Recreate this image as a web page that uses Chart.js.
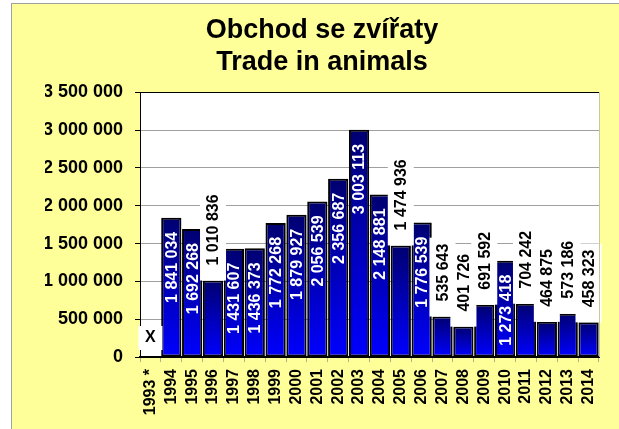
<!DOCTYPE html>
<html>
<head>
<meta charset="utf-8">
<script src="https://cdn.jsdelivr.net/npm/chart.js@4.4.1/dist/chart.umd.min.js"></script>
<style>
  html, body { margin: 0; padding: 0; background: #fff; overflow: hidden; }
  #frame {
    position: absolute; left: 11px; top: 3px;
    width: 620px; height: 440px;
    background: #FFFF99;
    border-left: 1px solid #a0a0a0; border-top: 1px solid #a0a0a0;
  }
  canvas { display: block; }
</style>
</head>
<body>
<div id="frame"><canvas id="obchodChart" width="607" height="425"></canvas></div>
<script>
var years = ["1993 *", "1994", "1995", "1996", "1997", "1998", "1999", "2000", "2001", "2002", "2003",
             "2004", "2005", "2006", "2007", "2008", "2009", "2010", "2011", "2012", "2013", "2014"];
var animals = [null, 1841034, 1692268, 1010836, 1431607, 1436373, 1772268, 1879927, 2056539, 2356687, 3003113,
               2148881, 1474936, 1776539, 535643, 401726, 691592, 1273418, 704242, 464875, 573186, 458323];
// years whose value label sits above the bar on a white box
var labelsAbove = ["1993 *", "1996", "2005", "2007", "2008", "2009", "2011", "2012", "2013", "2014"];

function spaced(n) {
    return String(n).replace(/\B(?=(\d{3})+(?!\d))/g, " ");
}

var FONT = "'Liberation Sans', Arial, sans-serif";

// white plot area + right border
var plotBg = {
    id: 'plotBg',
    beforeDraw: function (chart) {
        var a = chart.chartArea, c = chart.ctx;
        c.save();
        c.fillStyle = '#ffffff';
        c.fillRect(a.left, a.top, a.right - a.left, a.bottom - a.top);
        c.restore();
    },
    afterDraw: function (chart) {
        var a = chart.chartArea, c = chart.ctx;
        c.save();
        c.strokeStyle = '#c8c8a0';
        c.lineWidth = 1;
        c.beginPath();
        c.moveTo(a.right + 0.5, a.top);
        c.lineTo(a.right + 0.5, a.bottom);
        c.stroke();
        c.restore();
    }
};

// rotated value labels
var valueLabels = {
    id: 'valueLabels',
    afterDatasetsDraw: function (chart) {
        var c = chart.ctx;
        var meta = chart.getDatasetMeta(0);
        var yScale = chart.scales.y;
        c.save();
        c.font = 'bold 16px ' + FONT;
        meta.data.forEach(function (bar, i) {
            var v = animals[i];
            var x = bar.x;
            var top = yScale.getPixelForValue(v === null ? 0 : v);
            if (v === null) {
                c.fillStyle = '#fff';
                c.fillRect(x - 12, top - 31, 24, 24);
                c.fillStyle = '#000';
                c.textAlign = 'center';
                c.textBaseline = 'middle';
                c.fillText('X', x, top - 19);
                return;
            }
            var txt = spaced(v);
            var w = c.measureText(txt).width;
            c.save();
            if (labelsAbove.indexOf(years[i]) >= 0) {
                var bottom = top - 15;
                c.fillStyle = '#fff';
                c.fillRect(x - 13, bottom - w - 6, 26, w + 6 + 15);
                c.translate(x, bottom);
                c.rotate(-Math.PI / 2);
                c.fillStyle = '#000';
                c.textAlign = 'left';
                c.textBaseline = 'middle';
                c.fillText(txt, 0, 1);
            } else {
                c.translate(x, top + 14);
                c.rotate(-Math.PI / 2);
                c.fillStyle = '#fff';
                c.textAlign = 'right';
                c.textBaseline = 'middle';
                c.fillText(txt, 0, 1);
            }
            c.restore();
        });
        c.restore();
    }
};

var ctx = document.getElementById('obchodChart').getContext('2d');
var chart = new Chart(ctx, {
    type: 'bar',
    data: {
        labels: years,
        datasets: [{
            label: "Trade in animals",
            data: animals,
            backgroundColor: function (context) {
                var ch = context.chart;
                if (!ch.chartArea || !ch.scales.y) return '#0000c0';
                var v = animals[context.dataIndex];
                if (v === null) return '#0000c0';
                var y = ch.scales.y;
                var g = ch.ctx.createLinearGradient(0, y.getPixelForValue(v), 0, y.getPixelForValue(0));
                g.addColorStop(0, '#000070');
                g.addColorStop(1, '#0000ff');
                return g;
            },
            borderColor: '#000000',
            borderWidth: 2,
            borderSkipped: false,
            barPercentage: 0.97,
            categoryPercentage: 1.0
        }]
    },
    options: {
        responsive: false,
        animation: false,
        layout: { padding: { left: 33, right: 20, top: 0, bottom: 0 } },
        plugins: {
            legend: { display: false },
            tooltip: { enabled: false },
            title: {
                display: true,
                text: ["Obchod se zvířaty", "Trade in animals"],
                color: '#000',
                font: { family: FONT, size: 27, weight: 'bold', lineHeight: 1.19 },
                padding: { top: 10, bottom: 14 }
            }
        },
        scales: {
            x: {
                grid: { drawOnChartArea: false, drawTicks: true, tickLength: 5, tickColor: '#b0b090' },
                border: { color: '#000', width: 2 },
                ticks: {
                    color: '#000',
                    font: { family: FONT, size: 16, weight: 'bold' },
                    minRotation: 90, maxRotation: 90,
                    padding: 7,
                    autoSkip: false
                },
                afterFit: function (s) { s.height = 72; }
            },
            y: {
                min: 0, max: 3500000,
                ticks: {
                    stepSize: 500000,
                    color: '#000',
                    font: { family: FONT, size: 18, weight: 'bold' },
                    padding: 12,
                    callback: function (v) { return spaced(v); }
                },
                grid: {
                    color: function (c) { return c.tick && c.tick.value === 3500000 ? '#000' : '#a0a0a0'; },
                    tickColor: '#000',
                    tickLength: 5
                },
                border: { color: '#000', width: 1 },
                afterFit: function (s) { s.width = 95; }
            }
        }
    },
    plugins: [plotBg, valueLabels]
});
</script>
</body>
</html>
